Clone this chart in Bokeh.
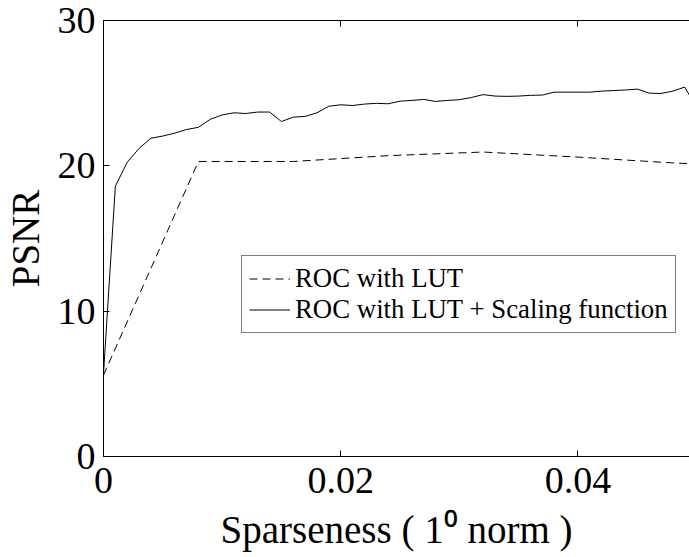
from bokeh.plotting import figure
from bokeh.models import (FixedTicker, LinearAxis, CustomJSTickFormatter, Legend,
                          LegendItem, Range1d)
from bokeh.embed import file_html
from bokeh.resources import INLINE

# ---- data ----
lut_x = [0.0, 0.008, 0.016, 0.024, 0.032, 0.040, 0.048, 0.0494]
lut_y = [5.6, 20.3, 20.3, 20.7, 20.95, 20.6, 20.2, 20.15]

scal_x = [0.0, 0.001, 0.002, 0.003, 0.004, 0.005, 0.006, 0.007, 0.008, 0.009,
          0.010, 0.011, 0.012, 0.013, 0.014, 0.015, 0.016, 0.017, 0.018, 0.019,
          0.020, 0.021, 0.022, 0.023, 0.024, 0.025, 0.026, 0.027, 0.028, 0.029,
          0.030, 0.031, 0.032, 0.033, 0.034, 0.035, 0.036, 0.037, 0.038, 0.039,
          0.040, 0.041, 0.042, 0.043, 0.044, 0.045, 0.046, 0.047, 0.048, 0.049,
          0.0494]
scal_y = [5.7, 18.6, 20.25, 21.2, 21.9, 22.05, 22.25, 22.5, 22.65, 23.2,
          23.5, 23.65, 23.6, 23.7, 23.7, 23.05, 23.35, 23.4, 23.65, 24.1,
          24.2, 24.15, 24.25, 24.3, 24.27, 24.45, 24.5, 24.57, 24.43, 24.5,
          24.55, 24.7, 24.9, 24.8, 24.78, 24.8, 24.85, 24.87, 25.07, 25.07,
          25.07, 25.07, 25.14, 25.18, 25.22, 25.28, 25.0, 24.98, 25.14, 25.42,
          24.85]

x_ticks = [0.0, 0.02, 0.04]
y_ticks = [0, 10, 20, 30]
x_label = "Sparseness ( 1\u2070 norm )"
y_label = "PSNR"
series_names = ["ROC with LUT", "ROC with LUT + Scaling function"]

FONT = "Liberation Serif"

p = figure(width=689, height=557, output_backend="svg", toolbar_location=None,
           x_range=Range1d(0, 0.0494), y_range=Range1d(0, 30),
           min_border_left=100, min_border_right=0, min_border_top=20,
           min_border_bottom=101)
p.outline_line_color = None
p.grid.visible = False
p.background_fill_color = "white"
p.border_fill_color = "white"

r1 = p.line(lut_x, lut_y, line_color="black", line_width=1, line_dash="8 5")
r2 = p.line(scal_x, scal_y, line_color="black", line_width=1)

fmt = CustomJSTickFormatter(code="return tick === 0 ? '0' : tick.toFixed(2);")

for ax in p.xaxis:
    ax.ticker = FixedTicker(ticks=x_ticks)
    ax.formatter = fmt
for ax in p.yaxis:
    ax.ticker = FixedTicker(ticks=y_ticks)

for ax in list(p.xaxis) + list(p.yaxis):
    ax.major_tick_in = 6
    ax.major_tick_out = 0
    ax.minor_tick_line_color = None
    ax.axis_line_color = "black"
    ax.major_tick_line_color = "black"
    ax.major_label_text_font = FONT
    ax.major_label_text_font_size = "38px"
    ax.major_label_text_color = "black"
    ax.axis_label_text_font = FONT
    ax.axis_label_text_font_size = "39px"
    ax.axis_label_text_font_style = "normal"
    ax.axis_label_text_color = "black"

p.xaxis.axis_label = x_label
p.yaxis.axis_label = y_label
p.xaxis.major_label_standoff = 11
p.xaxis.axis_label_standoff = 12
p.yaxis.major_label_standoff = 8
p.yaxis.axis_label_standoff = 8

top = LinearAxis(ticker=FixedTicker(ticks=x_ticks), major_tick_in=6, major_tick_out=0,
                 minor_tick_line_color=None, major_label_standoff=0,
                 formatter=CustomJSTickFormatter(code="return '';"),
                 axis_line_color="black", major_tick_line_color="black")
p.add_layout(top, "above")

legend = Legend(items=[LegendItem(label=series_names[0], renderers=[r1]),
                       LegendItem(label=series_names[1], renderers=[r2])],
                location=(138, 123))
legend.label_text_font = FONT
legend.label_text_font_size = "26.8px"
legend.label_text_color = "black"
legend.border_line_color = "black"
legend.border_line_width = 1
legend.background_fill_alpha = 1
legend.padding = 7
legend.spacing = 0
legend.margin = 0
legend.label_height = 29
legend.glyph_height = 29
legend.glyph_width = 41
legend.label_standoff = 5
legend.label_width = 367
p.add_layout(legend, "center")

open("out.html", "w").write(file_html(p, INLINE))
